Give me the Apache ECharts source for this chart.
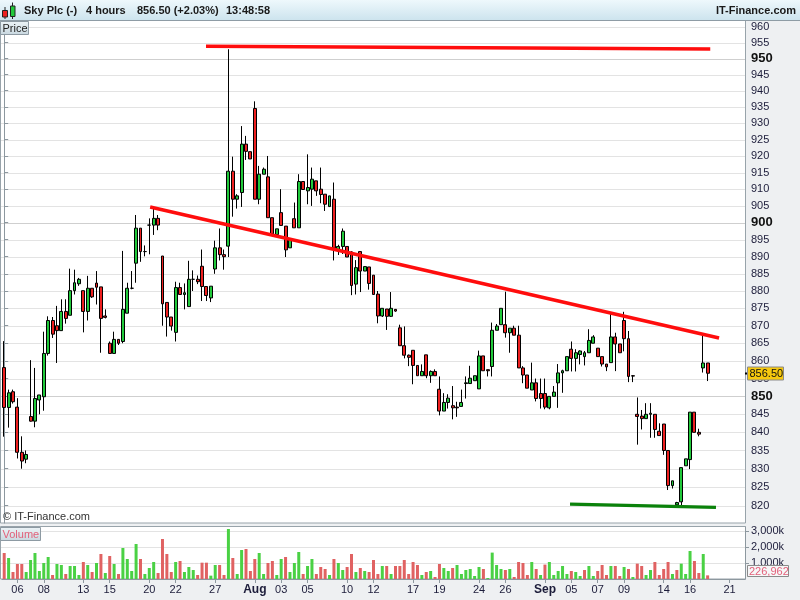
<!DOCTYPE html>
<html><head><meta charset="utf-8">
<script src="https://cdn.jsdelivr.net/npm/echarts@6/dist/echarts.min.js"></script>
<style>html,body{margin:0;padding:0;background:#fff}#c{width:800px;height:600px}</style>
</head><body><div id="c"></div>
<script>
// ---------------- DATA ----------------
const tradingDays = ['07-05','07-06','07-07','07-08','07-11','07-12','07-13','07-14','07-15','07-18','07-19','07-20','07-21','07-22','07-25','07-26','07-27','07-28','07-29',
  '08-01','08-02','08-03','08-04','08-05','08-08','08-09','08-10','08-11','08-12','08-15','08-16','08-17','08-18','08-19','08-22','08-23','08-24','08-25','08-26','08-30','08-31',
  '09-01','09-02','09-05','09-06','09-07','09-08','09-09','09-12','09-13','09-14','09-15','09-16','09-19','09-20','09-21','09-22'];
const sessions = ['08:00','12:00','16:00'];
const categoryCount = 169;

const opens = [858.1,846.9,851.3,847.0,834.5,832.6,844.4,843.1,849.0,849.9,862.1,871.5,870.0,868.6,874.1,873.0,880.1,882.1,880.1,874.1,
880.8,882.3,881.2,872.8,865.0,862.1,866.1,865.5,873.6,880.8,888.1,898.4,891.5,899.3,899.3,901.3,890.2,876.7,872.5,868.1,
881.0,879.0,875.5,883.4,883.4,887.2,881.3,878.0,886.4,892.6,890.6,893.1,915.4,907.0,909.0,923.6,921.3,934.5,907.0,914.5,
913.7,901.5,896.5,903.0,899.0,892.6,901.2,898.5,912.3,909.5,910.0,912.5,910.0,908.5,904.8,907.0,892.0,893.0,893.0,891.4,
882.0,891.5,885.8,887.0,884.6,879.1,872.8,874.8,872.7,874.7,869.4,864.3,861.6,863.0,858.7,855.8,861.7,855.8,857.0,852.0,
845.9,848.3,847.4,847.0,847.2,853.6,853.6,854.4,852.1,861.4,857.5,858.4,868.7,870.3,870.3,868.0,869.3,867.3,858.0,856.0,
851.8,853.8,850.8,850.8,846.8,850.0,853.8,856.6,857.2,863.3,860.7,861.8,861.2,862.3,865.0,863.6,861.2,859.1,859.5,866.8,
864.8,871.5,866.3,855.8,845.0,844.5,843.8,845.0,845.0,840.3,842.3,835.0,825.4,820.2,821.0,830.8,832.5,845.6,840.0,858.0,859.4];
const highs = [865.6,851.9,851.9,849.5,838.9,835.0,860.2,858.0,850.4,868.3,872.7,872.5,875.7,877.6,877.6,886.5,886.2,883.8,880.1,884.4,
880.8,885.8,881.2,874.7,865.5,868.3,866.1,891.7,882.4,885.8,902.3,898.4,893.3,901.3,904.3,902.3,890.2,876.7,872.5,882.7,
882.4,882.2,888.8,886.0,884.5,892.1,881.3,881.4,894.7,898.3,892.1,952.9,919.8,908.5,929.1,926.1,921.3,936.7,917.0,916.5,
920.0,901.5,898.2,910.0,899.0,895.0,906.0,914.5,912.3,920.5,916.5,912.5,916.5,908.5,908.0,912.0,893.5,898.3,893.0,891.6,
889.0,891.5,887.2,887.0,884.6,880.0,875.0,874.8,879.7,874.8,870.3,869.8,861.8,863.0,858.7,859.0,861.7,857.3,857.6,855.6,
850.9,850.6,852.9,848.5,851.9,855.6,858.6,855.8,862.9,861.4,857.5,870.9,870.5,875.0,879.8,869.3,870.0,870.0,858.5,856.0,
859.5,855.0,855.0,855.0,850.0,852.9,859.1,857.5,861.2,865.5,863.3,863.0,862.8,869.0,867.3,863.6,861.2,859.1,873.6,868.0,
864.8,874.0,868.5,856.0,849.7,846.2,848.1,848.1,845.0,842.5,842.3,835.0,826.7,821.0,830.3,832.7,845.6,845.6,841.0,867.7,859.4];
const lows = [838.8,841.3,848.0,832.8,830.0,831.5,843.0,841.4,845.0,846.0,861.5,866.5,859.4,868.6,870.6,873.0,879.0,881.5,868.1,871.5,
878.0,876.1,862.3,872.1,862.0,862.1,864.5,865.0,873.6,880.5,882.4,888.5,890.1,890.7,896.4,897.8,870.0,866.9,868.6,865.5,
879.0,874.7,875.5,880.0,882.0,877.1,877.1,876.8,885.0,888.9,886.2,889.9,901.8,904.2,904.7,918.8,919.1,907.0,905.5,914.5,
901.5,896.7,896.5,899.2,889.9,892.6,898.5,898.5,909.9,905.5,905.0,908.0,905.8,903.5,904.8,888.9,890.5,890.8,889.9,878.8,
879.0,879.7,885.8,880.4,879.0,870.7,872.5,868.8,872.5,874.0,864.3,860.7,858.5,853.4,855.8,855.8,855.1,853.8,855.8,844.7,
845.9,846.6,843.6,844.3,847.2,849.4,853.6,854.4,852.1,857.2,855.6,855.6,868.7,870.3,866.6,862.3,867.3,858.0,853.7,852.3,
851.8,848.6,846.6,846.4,846.4,850.0,846.8,851.0,857.2,857.0,857.0,859.0,858.7,862.3,865.0,861.2,858.4,857.1,859.5,857.1,
862.3,862.7,854.0,854.0,836.6,840.8,843.8,838.5,838.5,839.1,833.8,824.2,824.6,820.0,820.0,830.8,829.9,840.0,838.9,856.7,854.3];
const closes = [846.9,851.0,848.5,834.5,832.1,833.9,843.1,849.4,850.4,862.1,871.5,867.6,868.6,874.1,872.1,880.1,882.4,883.4,874.1,880.8,
878.3,881.1,872.1,872.4,862.1,866.1,865.0,874.7,880.8,880.8,898.4,891.5,891.5,899.3,901.3,899.3,876.3,872.5,869.9,881.0,
879.0,879.5,883.4,883.4,882.7,881.3,878.7,881.4,892.6,890.6,890.0,915.4,907.0,908.0,923.6,921.4,919.1,907.0,914.5,916.0,
901.5,896.7,898.2,899.2,892.0,895.0,898.5,912.3,909.9,910.5,913.0,909.5,908.4,905.5,908.0,892.5,893.0,897.5,889.9,881.6,
886.8,885.8,887.1,882.2,879.0,872.8,875.0,872.7,875.0,874.2,864.3,861.6,861.0,858.7,855.8,857.0,855.8,857.0,855.8,845.9,
848.3,849.5,846.8,846.8,848.3,853.8,855.1,855.8,861.4,857.2,857.2,868.7,869.9,875.0,868.0,869.3,867.3,858.0,856.0,852.3,
853.8,849.4,849.4,847.0,850.0,851.2,856.6,857.2,861.2,860.7,862.3,862.8,862.3,865.8,866.8,861.2,859.1,858.3,866.8,864.8,
862.3,866.3,855.6,855.7,844.4,843.8,845.0,845.3,840.8,839.1,835.0,825.4,826.7,820.8,830.3,832.7,845.6,840.0,839.5,859.4,856.5];
const volumes = [1625000,1312000,437000,937000,937000,437000,1187000,1625000,500000,1000000,1375000,250000,937000,875000,312000,812000,812000,250000,1062000,875000,
437000,1000000,1562000,375000,1437000,937000,312000,1937000,1250000,500000,2187000,1250000,312000,687000,1062000,375000,2500000,1562000,437000,1062000,
1125000,437000,750000,562000,250000,1020000,1020000,210000,875000,875000,250000,3125000,1312000,312000,1812000,1875000,500000,1250000,1625000,312000,
1000000,1125000,250000,1250000,1375000,437000,1000000,1687000,312000,812000,1250000,312000,750000,625000,250000,1250000,1000000,562000,750000,1562000,
437000,687000,500000,437000,1187000,312000,812000,812000,312000,812000,812000,1187000,312000,1062000,875000,250000,437000,500000,125000,937000,
687000,500000,687000,875000,312000,562000,625000,187000,750000,625000,62000,1650000,875000,625000,562000,625000,125000,1062000,1000000,250000,
1062000,625000,250000,900000,1062000,250000,500000,812000,312000,500000,437000,187000,562000,812000,187000,500000,875000,250000,812000,812000,
187000,750000,625000,125000,960000,812000,250000,562000,1062000,250000,625000,1062000,312000,562000,960000,312000,1750000,1125000,375000,1562000,226962];

const xTickDays   = ['07-06','07-08','07-13','07-15','07-20','07-22','07-27','08-01','08-03','08-05','08-10','08-12','08-17','08-19','08-24','08-26','09-01','09-05','09-07','09-09','09-14','09-16','09-21'];
const xTickLabels = ['06','08','13','15','20','22','27','Aug','03','05','10','12','17','19','24','26','Sep','05','07','09','14','16','21'];
const priceTicks = [960,955,950,945,940,935,930,925,920,915,910,905,900,895,890,885,880,875,870,865,860,855,850,845,840,835,830,825,820];
const boldPriceTicks = [950,900,850];
const volumeTicks = [1000000,2000000,3000000];
const priceRange = [815.3, 961.8];
const volumeMax = 3250000;

// trend lines: [candle index, price]
const topLine = [[45.9, 953.8], [160.6, 953.0]];
const downLine = [[33.2, 904.7], [162.6, 866.5]];
const supportLine = [[128.7, 820.4], [161.9, 819.5]];

// ---------------- BUILD ----------------
const LN = Math.log;
const categories = [];
tradingDays.forEach(d => sessions.forEach(s => categories.push(d + ' ' + s)));
categories.length = categoryCount;

const UP = '#21c93b', DOWN = '#ee2020';
const VUP = '#4ad144', VDOWN = '#e06262';
const AXIS = '#8d989f', TXT = '#1c1c3a';
const FONT = '"Liberation Sans", Arial, sans-serif';

const candleData = opens.map((o, i) => [LN(o), LN(closes[i]), LN(lows[i]), LN(highs[i])]);
const volData = volumes.map((v, i) => ({ value: v, itemStyle: { color: (i > 0 && closes[i] >= closes[i - 1]) ? VUP : VDOWN } }));

const tickMap = {};
xTickDays.forEach((d, k) => { tickMap[d + ' ' + sessions[0]] = xTickLabels[k]; });
const isTick = (idx, val) => tickMap[val] !== undefined;

const chart = echarts.init(document.getElementById('c'), null, { renderer: 'canvas', width: 800, height: 600 });

const option = {
  animation: false,
  backgroundColor: '#eef0f2',
  textStyle: { fontFamily: FONT },
  grid: [
    { left: 2, top: 21, width: 743, height: 502 },
    { left: 2, top: 527, width: 743, height: 52 }
  ],
  xAxis: [
    { type: 'category', gridIndex: 0, data: categories, boundaryGap: true, axisLine: { show: false }, axisTick: { show: false }, axisLabel: { show: false }, splitLine: { show: false } },
    { type: 'category', gridIndex: 1, data: categories, boundaryGap: true,
      axisLine: { show: true, lineStyle: { color: AXIS } },
      axisTick: { show: true, alignWithLabel: true, interval: isTick, length: 4, lineStyle: { color: AXIS } },
      axisLabel: { interval: isTick, margin: 5, fontSize: 11, color: TXT, fontFamily: FONT,
        formatter: (val) => { const t = tickMap[val]; if (t === undefined) return ''; return /[A-Za-z]/.test(t) ? '{b|' + t + '}' : t; },
        rich: { b: { fontWeight: 'bold', fontSize: 12, color: TXT, fontFamily: FONT } } },
      splitLine: { show: false } },
    { type: 'value', gridIndex: 0, min: -0.5, max: categoryCount - 0.5, show: false }
  ],
  yAxis: [
    { type: 'value', gridIndex: 0, position: 'right', min: LN(priceRange[0]), max: LN(priceRange[1]),
      axisLine: { show: true, lineStyle: { color: AXIS } },
      axisTick: { show: true, customValues: priceTicks.map(LN), length: 4, lineStyle: { color: AXIS } },
      axisLabel: { customValues: priceTicks.map(LN), margin: 6, fontSize: 11, color: TXT, fontFamily: FONT,
        formatter: (v) => { const p = Math.round(Math.exp(v)); return boldPriceTicks.includes(p) ? '{b|' + p + '}' : String(p); },
        rich: { b: { fontWeight: 'bold', fontSize: 13, color: '#111', fontFamily: FONT } } },
      splitLine: { show: false } },
    { type: 'value', gridIndex: 1, position: 'right', min: 0, max: volumeMax,
      axisLine: { show: true, lineStyle: { color: AXIS } },
      axisTick: { show: true, customValues: volumeTicks, length: 4, lineStyle: { color: AXIS } },
      axisLabel: { customValues: volumeTicks, margin: 6, fontSize: 11, color: TXT, fontFamily: FONT,
        formatter: (v) => (v / 1000).toLocaleString('en-US') + 'k' },
      splitLine: { show: false } }
  ],
  series: [
    { type: 'candlestick', xAxisIndex: 0, yAxisIndex: 0, data: candleData, barWidth: 3.4, z: 3,
      itemStyle: { color: UP, color0: DOWN, borderColor: '#000', borderColor0: '#000', borderColorDoji: '#000', borderWidth: 1 } },
    { type: 'bar', xAxisIndex: 1, yAxisIndex: 1, data: volData, barWidth: 3, z: 3 },
    { type: 'line', xAxisIndex: 2, yAxisIndex: 0, data: topLine.map(p => [p[0], LN(p[1])]), symbol: 'none', z: 5, silent: true, lineStyle: { color: '#ff0d0d', width: 3.5 } },
    { type: 'line', xAxisIndex: 2, yAxisIndex: 0, data: downLine.map(p => [p[0], LN(p[1])]), symbol: 'none', z: 5, silent: true, lineStyle: { color: '#ff0d0d', width: 3.5 } },
    { type: 'line', xAxisIndex: 2, yAxisIndex: 0, data: supportLine.map(p => [p[0], LN(p[1])]), symbol: 'none', z: 5, silent: true, lineStyle: { color: '#0b820b', width: 3.2 } }
  ]
};
chart.setOption(option);

// ---------- overlays (positions from the library's scales) ----------
const lastClose = closes[closes.length - 1];
const lastVol = volumes[volumes.length - 1];
const py = chart.convertToPixel({ yAxisIndex: 0 }, LN(lastClose));
let vy = chart.convertToPixel({ yAxisIndex: 1 }, lastVol);
vy = Math.min(vy, 571);
const grad = (a, b) => ({ type: 'linear', x: 0, y: 0, x2: 0, y2: 1, colorStops: [{ offset: 0, color: a }, { offset: 1, color: b }] });
const txt = (x, y, s, font, fill, align) => ({ type: 'text', z: 100, style: { x, y, text: s, font, fill, align: align || 'left', verticalAlign: 'middle' } });
const hline = (y, color) => ({ type: 'line', z: -4, silent: true, shape: { x1: 1, y1: Math.round(y) + 0.5, x2: 745, y2: Math.round(y) + 0.5 }, style: { stroke: color, lineWidth: 1 } });

const graphics = [
  // panels
  { type: 'rect', z: -5, shape: { x: 0.5, y: 20.5, width: 745, height: 502.5 }, style: { fill: '#fff', stroke: '#98a3aa', lineWidth: 1 } },
  { type: 'rect', z: -5, shape: { x: 0.5, y: 526.5, width: 745, height: 52.5 }, style: { fill: '#fff', stroke: '#98a3aa', lineWidth: 1 } }
];
// grid lines through the axes' own scales
priceTicks.forEach(p => graphics.push(hline(chart.convertToPixel({ yAxisIndex: 0 }, LN(p)), boldPriceTicks.includes(p) ? '#cfcfcf' : '#e3e3e3')));
volumeTicks.forEach(v => graphics.push(hline(chart.convertToPixel({ yAxisIndex: 1 }, v), '#e3e3e3')));

graphics.push(
  // header
  { type: 'rect', z: 90, shape: { x: 0, y: 0, width: 800, height: 20 }, style: { fill: grad('#eef8fc', '#cde4ee') } },
  { type: 'line', z: 91, shape: { x1: 0, y1: 20.5, x2: 800, y2: 20.5 }, style: { stroke: '#8e9ca5', lineWidth: 1 } },
  { type: 'line', z: 92, shape: { x1: 5, y1: 7, x2: 5, y2: 19 }, style: { stroke: '#222', lineWidth: 1 } },
  { type: 'rect', z: 93, shape: { x: 2.5, y: 10.5, width: 5, height: 6.5 }, style: { fill: '#ee2020', stroke: '#222', lineWidth: 1 } },
  { type: 'line', z: 92, shape: { x1: 12.5, y1: 2.5, x2: 12.5, y2: 19 }, style: { stroke: '#222', lineWidth: 1 } },
  { type: 'rect', z: 93, shape: { x: 10.5, y: 6, width: 4.5, height: 10.5 }, style: { fill: '#21c93b', stroke: '#222', lineWidth: 1 } },
  txt(24, 11, 'Sky Plc (-)', 'bold 11px ' + FONT, '#1a1a1a'),
  txt(86, 11, '4 hours', 'bold 11px ' + FONT, '#1a1a1a'),
  txt(137, 11, '856.50 (+2.03%)', 'bold 11px ' + FONT, '#1a1a1a'),
  txt(226, 11, '13:48:58', 'bold 11px ' + FONT, '#1a1a1a'),
  txt(796, 11, 'IT-Finance.com', 'bold 11px ' + FONT, '#1a1a1a', 'right'),
  // panel labels
  { type: 'rect', z: 95, shape: { x: 0.5, y: 21.5, width: 28, height: 13 }, style: { fill: grad('#edf4f7', '#c8d7df'), stroke: '#8d9aa3', lineWidth: 1 } },
  txt(2.5, 28.5, 'Price', '11px ' + FONT, '#222'),
  { type: 'rect', z: 95, shape: { x: 0.5, y: 527.5, width: 40, height: 13 }, style: { fill: grad('#edf4f7', '#c8d7df'), stroke: '#8d9aa3', lineWidth: 1 } },
  txt(2.5, 534.5, 'Volume', '11px ' + FONT, '#e2607a'),
  txt(3, 517, '\u00a9 IT-Finance.com', '11px ' + FONT, '#333'),
  // last price marker
  { type: 'line', z: 96, shape: { x1: 745, y1: Math.round(py) + 0.5, x2: 750, y2: Math.round(py) + 0.5 }, style: { stroke: '#000', lineWidth: 2 } },
  { type: 'rect', z: 97, shape: { x: 747.5, y: Math.round(py) - 6, width: 36, height: 13 }, style: { fill: '#f7c90e', stroke: '#8a8a8a', lineWidth: 1 } },
  txt(749.5, Math.round(py) + 0.5, lastClose.toFixed(2), '11px ' + FONT, '#111'),
  // last volume marker
  { type: 'rect', z: 97, shape: { x: 747.5, y: Math.round(vy) - 5.5, width: 41, height: 11 }, style: { fill: '#f6f7f8', stroke: '#8a8a8a', lineWidth: 1 } },
  txt(749, Math.round(vy) + 0.5, lastVol.toLocaleString('en-US'), '11px ' + FONT, '#e2607a')
);
chart.setOption({ graphic: graphics });
</script>
</body></html>
